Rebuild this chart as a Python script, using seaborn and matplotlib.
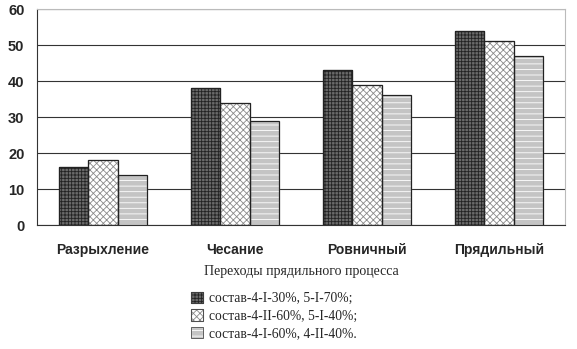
import pandas as pd
import matplotlib
matplotlib.use('Agg')
import matplotlib.pyplot as plt
import matplotlib.patches as mpatches
from matplotlib.legend_handler import HandlerTuple
import seaborn as sns

stages = ['Разрыхление', 'Чесание', 'Ровничный', 'Прядильный']
series = ['состав-4-I-30%, 5-I-70%;',
          'состав-4-II-60%, 5-I-40%;',
          'состав-4-I-60%, 4-II-40%.']
mix1 = [16, 38, 43, 54]
mix2 = [18, 34, 39, 51]
mix3 = [14, 29, 36, 47]

df = pd.DataFrame({
    'stage': stages * 3,
    'mix': [series[0]] * 4 + [series[1]] * 4 + [series[2]] * 4,
    'value': mix1 + mix2 + mix3,
})

sns.set_style('white')
plt.rcParams['hatch.linewidth'] = 0.6

fig = plt.figure(figsize=(5.77, 3.49), dpi=100)
ax = fig.add_axes([0.064, 0.355, 0.915, 0.619])

sns.barplot(data=df, x='stage', y='value', hue='mix', order=stages,
            hue_order=series, width=0.67, gap=0, ax=ax, legend=False)

# fill, hatch and hatch colour for each series
faces = ['#6a6a6a', '#ffffff', '#c4c4c4']
hatches = ['+++++', 'xxxxx', '---']
hcolors = ['#222222', '#8a8a8a', '#ffffff']


def style(p, fc, h, hc):
    p.set_facecolor(fc)
    p.set_hatch(h)
    if hasattr(p, 'set_hatchcolor'):
        p.set_hatchcolor(hc)
        p.set_edgecolor('#222222')
    else:
        p.set_edgecolor(hc)
    p.set_linewidth(0.8)


for cont, fc, h, hc in zip(ax.containers, faces, hatches, hcolors):
    for bar in cont:
        style(bar, fc, h, hc)
        # dark outline on top
        ax.add_patch(mpatches.Rectangle(bar.get_xy(), bar.get_width(), bar.get_height(),
                                        fill=False, edgecolor='#222222', linewidth=0.9,
                                        zorder=bar.get_zorder() + 0.1))

ax.set_ylim(0, 60)
ax.set_xlim(-0.5, 3.5)
ax.set_yticks(range(0, 61, 10))
ax.yaxis.grid(True, color='#333333', linewidth=0.8)
ax.set_axisbelow(True)

for s in ['top', 'right']:
    ax.spines[s].set_color('#bbbbbb')
for s in ['left', 'bottom']:
    ax.spines[s].set_color('#333333')

ax.set_xticks([-0.5, 0.5, 1.5, 2.5, 3.5])
ax.set_xticklabels([])
ax.set_xticks(range(4), minor=True)
ax.set_xticklabels(stages, minor=True, fontweight='bold', fontsize=10,
                   fontfamily='Liberation Sans')
ax.tick_params(axis='x', which='major', direction='out', length=4, color='#333333')
ax.tick_params(axis='x', which='minor', length=0, pad=13)
ax.tick_params(axis='y', direction='out', length=4, color='#333333', pad=5)
for lbl in ax.get_yticklabels():
    lbl.set_fontweight('bold')
    lbl.set_fontsize(10.5)
    lbl.set_fontfamily('Liberation Sans')

ax.set_ylabel('')
ax.set_xlabel('Переходы прядильного процесса', fontfamily='Liberation Serif',
              fontsize=10, labelpad=6)

handles = []
for fc, h, hc in zip(faces, hatches, hcolors):
    p = mpatches.Patch()
    style(p, fc, h, hc)
    outline = mpatches.Patch(fill=False, edgecolor='#444444', linewidth=0.6)
    handles.append((p, outline))
fig.legend(handles, series, loc='upper left', bbox_to_anchor=(0.322, 0.18),
           frameon=False, prop={'family': 'Liberation Serif', 'size': 9.8},
           handlelength=0.9, handleheight=0.9, handletextpad=0.4,
           labelspacing=0.32, borderaxespad=0,
           handler_map={tuple: HandlerTuple(ndivide=1, pad=0)})

fig.savefig('out.png', dpi=100)
